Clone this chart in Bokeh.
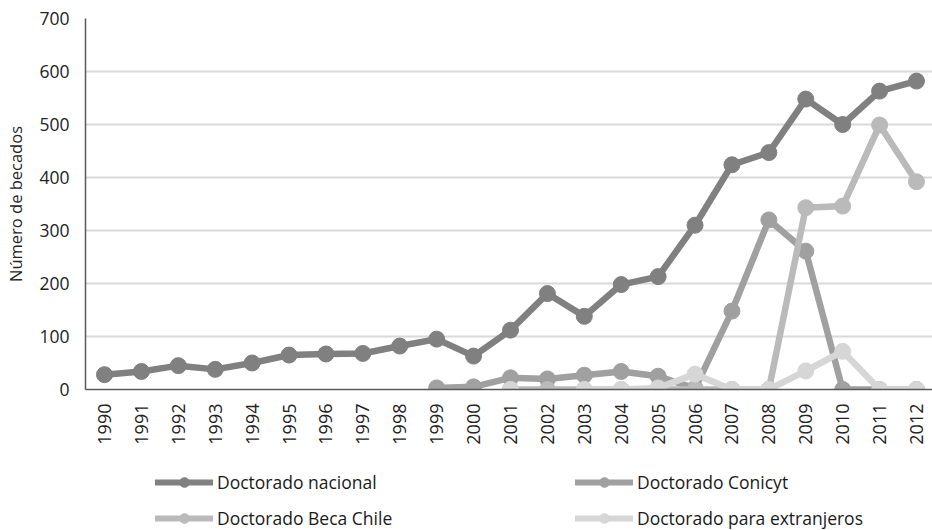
import math
from bokeh.plotting import figure
from bokeh.layouts import column
from bokeh.models import Range1d, FixedTicker, Legend, LegendItem
from bokeh.embed import file_html
from bokeh.resources import INLINE

NaN = float("nan")

years = list(range(1990, 2013))
year_labels = [str(y) for y in years]
y_ticks = [0, 100, 200, 300, 400, 500, 600, 700]

nacional = [28, 34, 45, 38, 50, 65, 67, 68, 82, 95, 63,
            112, 181, 138, 198, 213, 310, 424, 447, 548, 500, 563, 582]
conicyt = [NaN] * 9 + [3, 5, 22, 20, 27, 34, 25, 2, 148, 320, 261, 0, 0, 0]
beca_chile = [NaN] * 11 + [0, 0, 0, 0, 0, 0, 0, 0, 343, 346, 499, 392]
extranjeros = [NaN] * 11 + [0, NaN, 0, 0, 3, 29, 0, 0, 35, 72, 0, 0]

series_names = ["Doctorado nacional", "Doctorado Conicyt",
                "Doctorado Beca Chile", "Doctorado para extranjeros"]
series_values = [nacional, conicyt, beca_chile, extranjeros]
series_colors = ["#808080", "#a0a0a0", "#bababa", "#d6d6d6"]

FONT = "Open Sans"

p = figure(width=932, height=455, output_backend="svg", toolbar_location=None,
           x_range=Range1d(1989.4852, 2012.4335), y_range=Range1d(0, 700),
           min_border_left=85, min_border_right=0, min_border_top=18,
           min_border_bottom=66)
p.outline_line_color = None
p.background_fill_color = "white"
p.border_fill_color = "white"

for name, vals, col in zip(series_names, series_values, series_colors):
    p.line(years, vals, line_color=col, line_width=6.5, line_join="round",
           line_cap="round")
    p.scatter(years, vals, size=16, fill_color=col, line_color=col)

# axes
p.xaxis.ticker = FixedTicker(ticks=years)
p.xaxis.major_label_overrides = {y: lab for y, lab in zip(years, year_labels)}
p.xaxis.major_label_orientation = math.pi / 2
p.xaxis.major_label_standoff = 14
p.xaxis.major_label_text_font = FONT
p.xaxis.major_label_text_font_size = "18px"
p.xaxis.major_label_text_color = "#222222"
p.xaxis.axis_line_color = "#595959"
p.xaxis.axis_line_width = 1.5
p.xaxis.major_tick_line_color = None
p.xaxis.major_tick_out = 0
p.xaxis.major_tick_in = 0
p.xaxis.minor_tick_line_color = None

p.yaxis.ticker = FixedTicker(ticks=y_ticks)
p.yaxis.major_label_standoff = 16
p.yaxis.major_label_text_font = FONT
p.yaxis.major_label_text_font_size = "17.5px"
p.yaxis.major_label_text_color = "#222222"
p.yaxis.axis_line_color = "#595959"
p.yaxis.axis_line_width = 1.5
p.yaxis.major_tick_line_color = None
p.yaxis.major_tick_out = 0
p.yaxis.major_tick_in = 0
p.yaxis.minor_tick_line_color = None
p.yaxis.axis_label = "Número de becados"
p.yaxis.axis_label_text_font = FONT
p.yaxis.axis_label_text_font_size = "16.5px"
p.yaxis.axis_label_text_font_style = "normal"
p.yaxis.axis_label_text_color = "#262626"
p.yaxis.axis_label_standoff = 9

p.xgrid.visible = False
p.ygrid.grid_line_color = "#d9d9d9"
p.ygrid.grid_line_width = 2

# legend figure below the chart (its frame is aligned with the chart's frame)
pl = figure(width=932, height=75, output_backend="svg", toolbar_location=None,
            x_range=Range1d(0, 1), y_range=Range1d(0, 1),
            x_axis_type=None, y_axis_type=None,
            min_border_left=0, min_border_right=0, min_border_top=0,
            min_border_bottom=0)
pl.outline_line_color = None
pl.xgrid.visible = False
pl.ygrid.visible = False

# legend-only renderers: their data lie outside the visible range
off_x = [-10, -9]
off_y = [-10, -9]
leg_renderers = []
for name, col in zip(series_names, series_colors):
    lr = pl.line(off_x, off_y, line_color=col, line_width=6, line_cap="round")
    sr = pl.scatter(off_x, off_y, size=10, fill_color=col, line_color=col)
    leg_renderers.append((name, [lr, sr]))


def make_legend(items, loc):
    return Legend(items=[LegendItem(label=n, renderers=r) for n, r in items],
                  location=loc, orientation="horizontal",
                  glyph_width=58, glyph_height=24, label_standoff=4,
                  label_width=200, spacing=158, padding=0, margin=0,
                  border_line_alpha=0, background_fill_alpha=0,
                  label_text_font=FONT, label_text_font_size="17.5px",
                  label_text_color="#1a1a1a")


pl.add_layout(make_legend(leg_renderers[0:2], (70, 36)))
pl.add_layout(make_legend(leg_renderers[2:4], (70, 0)))

layout = column(p, pl, spacing=0)
open("out.html", "w").write(file_html(layout, INLINE))
